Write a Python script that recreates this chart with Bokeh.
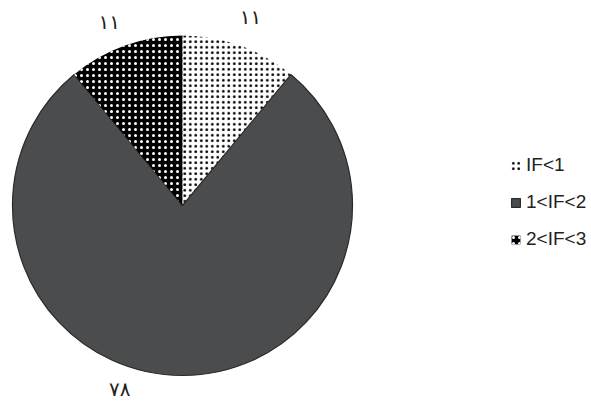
import math
from bokeh.plotting import figure
from bokeh.models import Range1d, Legend, LegendItem, Label
from bokeh.embed import file_html
from bokeh.resources import INLINE

categories = ["IF<1", "1<IF<2", "2<IF<3"]
values = [11, 78, 11]
value_labels = ["۱۱", "۷۸", "۱۱"]

W, H = 591, 402
p = figure(width=W, height=H, output_backend="svg", toolbar_location=None,
           x_range=Range1d(0, W), y_range=Range1d(0, H), min_border=0)
p.axis.visible = False
p.grid.visible = False
p.outline_line_color = None

cx, cy, r = 182, H - 205, 170
total = sum(values)
styles = [
    dict(fill_color="white", hatch_pattern="dot", hatch_color="black", hatch_scale=5.5, hatch_weight=1.5, line_color=None),
    dict(fill_color="#4b4c4e", line_color="#2a2a2a", line_width=1.2),
    dict(fill_color="black", hatch_pattern="dot", hatch_color="white", hatch_scale=6, hatch_weight=4.5, line_color=None),
]
renderers = []
start = math.pi / 2
label_offsets = [0.0, -0.33, 0.035]
label_radius = [1.18, 1.14, 1.16]
for v, st, lab, off, lf in zip(values, styles, value_labels, label_offsets, label_radius):
    sweep = 2 * math.pi * v / total
    end = start - sweep
    rr = p.wedge(x=[cx], y=[cy], radius=r, start_angle=end, end_angle=start, **st)
    renderers.append(rr)
    mid = (start + end) / 2 + off
    lr = r * lf
    p.add_layout(Label(x=cx + lr * math.cos(mid), y=cy + lr * math.sin(mid), text=lab,
                       text_font="DejaVu Sans", text_font_size="20px", text_color="#222222",
                       text_align="center", text_baseline="middle"))
    start = end

legend = Legend(items=[LegendItem(label=c, renderers=[rr]) for c, rr in zip(categories, renderers)],
                location=(510, H - 250), label_text_font="Liberation Sans", label_text_font_size="19px",
                label_text_color="#222222",
                glyph_width=11, glyph_height=11, label_standoff=5, spacing=15, padding=0, margin=0,
                border_line_color=None, background_fill_alpha=0, label_height=22)
p.add_layout(legend)

open("out.html", "w").write(file_html(p, INLINE))
